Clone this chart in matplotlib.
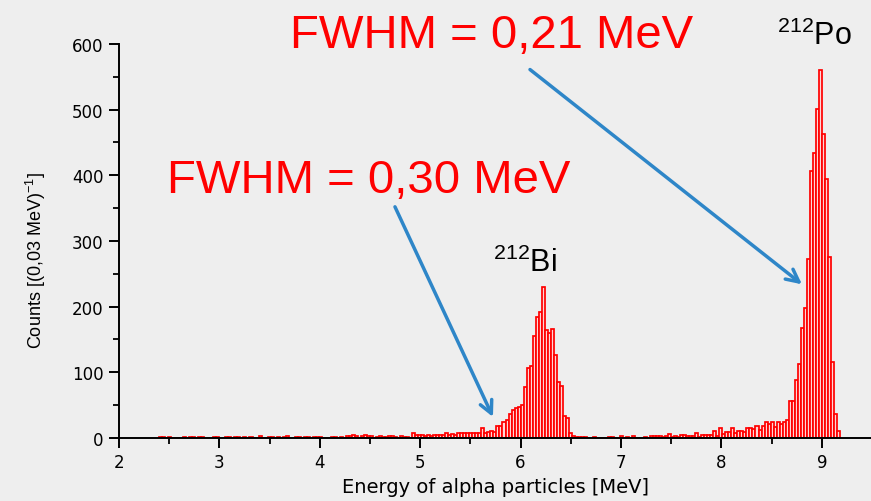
import numpy as np
import matplotlib
matplotlib.use("Agg")
import matplotlib.pyplot as plt
from matplotlib.ticker import MultipleLocator

plt.rcParams['font.family'] = ['Liberation Sans', 'DejaVu Sans']
plt.rcParams['mathtext.fontset'] = 'custom'
plt.rcParams['mathtext.rm'] = 'Liberation Sans'

# histogram of alpha energies, 0.03 MeV bins starting at 2.40 MeV
bin_start = 2.40
bin_width = 0.03

counts_low = [2, 2, 0, 2, 0, 0, 0, 0, 2, 0, 2, 2, 0, 2, 2, 0, 0, 0, 1, 1,
              0, 0, 2, 2, 0, 2, 2, 0, 1, 0, 1, 0, 0, 3, 0, 0, 2, 2, 0, 2,
              0, 2, 3, 0, 0, 2, 2, 0, 2, 2, 0, 2, 2, 2, 0, 0, 0, 1, 1, 0,
              1, 0, 3, 3, 4, 3, 0, 3, 4, 3, 3, 0, 2, 3, 2, 2, 3, 3, 2, 0,
              3, 2, 2, 0, 7, 5, 4, 4, 3, 4, 3, 5, 5, 5, 4, 7, 5, 6, 4, 7,
              7, 8, 8, 8]
counts_bi = [8, 8, 8, 15, 8, 9, 11, 9, 19, 19, 25, 28, 36, 42, 46, 47, 51, 78,
             106, 110, 156, 184, 192, 230, 164, 160, 166, 127, 85, 79, 34, 31,
             8, 3, 2, 1]
counts_mid = [1, 1, 0, 0, 1, 0, 0, 0, 0, 1, 1, 0, 0, 3, 0, 1, 0, 3, 0, 0,
              0, 1, 0, 3, 3, 3, 3, 2, 3, 6, 2, 3, 2, 5, 5, 3, 3, 3, 7, 2,
              4, 5, 5, 5, 10, 3, 15, 6, 9, 9]
counts_po = [15, 8, 11, 10, 9, 15, 15, 14, 18, 12, 19, 24, 22, 25, 17, 25, 21,
             24, 27, 57, 57, 88, 113, 167, 198, 273, 407, 434, 501, 560, 463,
             395, 275, 115, 37, 10]

counts = np.array(counts_low + counts_bi + counts_mid + counts_po)
edges = bin_start + bin_width * np.arange(len(counts))

fig = plt.figure(figsize=(8.71, 5.02), dpi=100)
fig.patch.set_facecolor('#eeeeee')
ax = fig.add_axes([0.1366, 0.1255, 0.8645, 0.785])
ax.set_facecolor('none')

ax.bar(edges, counts, width=bin_width, align='edge',
       facecolor='#ffd6d6', edgecolor='#ff0000', linewidth=1.25)

ax.set_xlim(2, 9.5)
ax.set_ylim(0, 600)
ax.xaxis.set_major_locator(MultipleLocator(1))
ax.xaxis.set_minor_locator(MultipleLocator(0.5))
ax.yaxis.set_major_locator(MultipleLocator(100))
ax.yaxis.set_minor_locator(MultipleLocator(50))
for s in ['top', 'right']:
    ax.spines[s].set_visible(False)
for s in ['left', 'bottom']:
    ax.spines[s].set_linewidth(1.4)
ax.tick_params(which='major', direction='out', length=7, width=1.4, pad=4)
ax.tick_params(which='minor', direction='out', length=4, width=1.3)
for lab in ax.get_xticklabels() + ax.get_yticklabels():
    lab.set_family('DejaVu Sans')
    lab.set_fontsize(12)

ax.set_xlabel('Energy of alpha particles [MeV]', fontsize=14, family='DejaVu Sans')
ax.xaxis.set_label_coords(0.5, -0.098)
ax.set_ylabel(r'Counts [(0,03 MeV)$^{\mathregular{-1}}$]', fontsize=13)
ax.yaxis.set_label_coords(-0.094, 0.454)

ax.text(5.715, 595, 'FWHM = 0,21 MeV', color='#ff0000', fontsize=34,
        ha='center', va='baseline', clip_on=False)
ax.text(4.49, 374, 'FWHM = 0,30 MeV', color='#ff0000', fontsize=34,
        ha='center', va='baseline', clip_on=False)
ax.text(6.04, 254, r'$\mathregular{^{212}Bi}$', color='black', fontsize=22,
        ha='center', va='baseline')
ax.text(8.93, 600, r'$\mathregular{^{212}Po}$', color='black', fontsize=22,
        ha='center', va='baseline', clip_on=False)

arrow_kw = dict(arrowstyle='->,head_length=0.9,head_width=0.45',
                color='#2e86c8', lw=2.5, shrinkA=0, shrinkB=0)
ax.annotate('', xy=(8.803, 234), xytext=(6.094, 561), arrowprops=arrow_kw,
            annotation_clip=False)
ax.annotate('', xy=(5.725, 32), xytext=(4.749, 352), arrowprops=arrow_kw)

fig.savefig('out.png', dpi=100, facecolor=fig.get_facecolor())
